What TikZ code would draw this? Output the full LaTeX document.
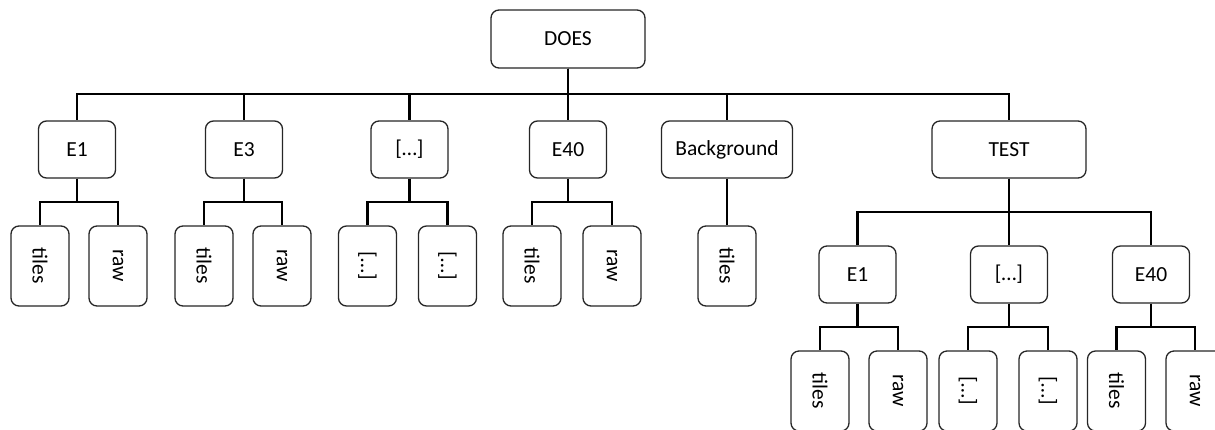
\documentclass[tikz,border=0pt]{standalone}
\usepackage{fontspec}
\setmainfont{Carlito}
\begin{document}
\begin{tikzpicture}[x=1pt,y=-1pt,
  box/.style={draw=black!85,line width=1.3pt,rounded corners=8pt,fill=white,inner sep=0pt,
    font=\fontsize{21.5}{24}\selectfont,minimum height=57pt},
  midbox/.style={box,minimum width=77pt},
  leaf/.style={box,minimum width=80pt,minimum height=58pt,rotate=-90},
  conn/.style={draw=black,line width=2.2pt}]
\useasboundingbox (0,0) rectangle (1215,429);
\clip (0,0) rectangle (1215,429);
% bus levels
\coordinate (b0) at (0,94);
\coordinate (b1) at (0,202);
\coordinate (bt) at (0,212);
\coordinate (b2) at (0,327);
% root
\node[box,minimum width=154pt,minimum height=58pt] (does) at (568,39) {DOES};
% row 2
\node[midbox] (e1) at (77,149.5) {E1};
\node[midbox] (e3) at (244,149.5) {E3};
\node[midbox] (ed) at (409.5,149.5) {[…]};
\node[midbox] (e40) at (568,149.5) {E40};
\node[box,minimum width=131pt] (bg) at (727,149.5) {Background};
\node[box,minimum width=154pt] (test) at (1009,149.5) {TEST};
% leaves row
\node[leaf] (e1t) at (40,266) {tiles};
\node[leaf] (e1r) at (118,266) {raw};
\node[leaf] (e3t) at (204,266) {tiles};
\node[leaf] (e3r) at (282,266) {raw};
\node[leaf] (edt) at (367.5,266) {[…]};
\node[leaf] (edr) at (447.5,266) {[…]};
\node[leaf] (e40t) at (532,266) {tiles};
\node[leaf] (e40r) at (612,266) {raw};
\node[leaf] (bgt) at (727,266) {tiles};
% test children
\node[midbox] (te1) at (857.5,274.5) {E1};
\node[midbox] (ted) at (1009,274.5) {[…]};
\node[midbox] (te40) at (1151,274.5) {E40};
\node[leaf] (te1t) at (820,391) {tiles};
\node[leaf] (te1r) at (898,391) {raw};
\node[leaf] (tedt) at (968,391) {[…]};
\node[leaf] (tedr) at (1048,391) {[…]};
\node[leaf] (te40t) at (1116.5,391) {tiles};
\node[leaf] (te40r) at (1195,391) {raw};
% connectors root
\foreach \c in {e1,e3,ed,e40,bg,test}
  \draw[conn] (does.south) -- (does.south |- b0) -| (\c.north);
\foreach \p/\a/\b in {e1/e1t/e1r,e3/e3t/e3r,ed/edt/edr,e40/e40t/e40r}{
  \draw[conn] (\p.south) -- (\p.south |- b1) -| (\a.west);
  \draw[conn] (\p.south) -- (\p.south |- b1) -| (\b.west);
}
\draw[conn] (bg.south) -- (bgt.west);
\foreach \c in {te1,ted,te40}
  \draw[conn] (test.south) -- (test.south |- bt) -| (\c.north);
\foreach \p/\a/\b in {te1/te1t/te1r,ted/tedt/tedr,te40/te40t/te40r}{
  \draw[conn] (\p.south) -- (\p.south |- b2) -| (\a.west);
  \draw[conn] (\p.south) -- (\p.south |- b2) -| (\b.west);
}
\end{tikzpicture}
\end{document}
